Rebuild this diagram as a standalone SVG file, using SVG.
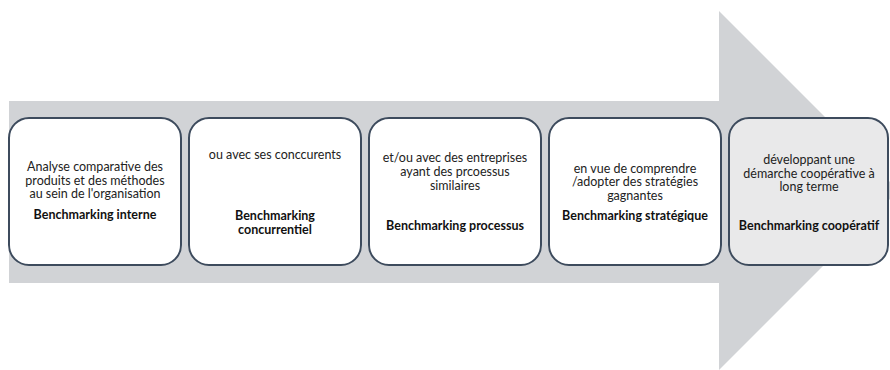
<svg xmlns="http://www.w3.org/2000/svg" width="890" height="370" viewBox="0 0 890 370">
<style>
.box{fill:#ffffff;stroke:#3d4b5d;stroke-width:2}
.box5{fill:#e9e9ea;stroke:#3d4b5d;stroke-width:2}
text{font-family:Lato,"Liberation Sans",sans-serif;font-size:12.5px;fill:#222;text-anchor:middle}
.b{font-weight:bold;fill:#111}
</style>
<rect width="890" height="370" fill="#ffffff"/>
<g id="arrow">
<polygon points="9,101 719,101 719,11 898.5,190.5 719,370 719,283 9,283" fill="#d1d3d6"/>
</g>
<g id="connectors"></g>
<g id="node1">
<rect class="box" x="9" y="118" width="172" height="147" rx="20"/>
<text x="95" y="171">Analyse comparative des</text>
<text x="95" y="184.5">produits et des méthodes</text>
<text x="95" y="198">au sein de l'organisation</text>
<text class="b" x="95" y="219">Benchmarking interne</text>
</g>
<g id="node2">
<rect class="box" x="189" y="118" width="172" height="147" rx="20"/>
<text x="275" y="158.5">ou avec ses conccurents</text>
<text class="b" x="275" y="219.5">Benchmarking</text>
<text class="b" x="275" y="233.5">concurrentiel</text>
</g>
<g id="node3">
<rect class="box" x="369" y="118" width="172" height="147" rx="20"/>
<text x="455" y="162">et/ou avec des entreprises</text>
<text x="455" y="175.5">ayant des prcoessus</text>
<text x="455" y="189.5">similaires</text>
<text class="b" x="455" y="230">Benchmarking processus</text>
</g>
<g id="node4">
<rect class="box" x="549" y="118" width="172" height="147" rx="20"/>
<text x="635" y="172.5">en vue de comprendre</text>
<text x="635" y="186">/adopter des stratégies</text>
<text x="635" y="200">gagnantes</text>
<text class="b" x="635" y="220">Benchmarking stratégique</text>
</g>
<g id="node5">
<rect class="box5" x="729" y="118" width="159" height="147" rx="20"/>
<text x="809" y="163.5">développant une</text>
<text x="809" y="177.5">démarche coopérative à</text>
<text x="809" y="191">long terme</text>
<text class="b" x="809" y="230">Benchmarking coopératif</text>
</g>
</svg>
